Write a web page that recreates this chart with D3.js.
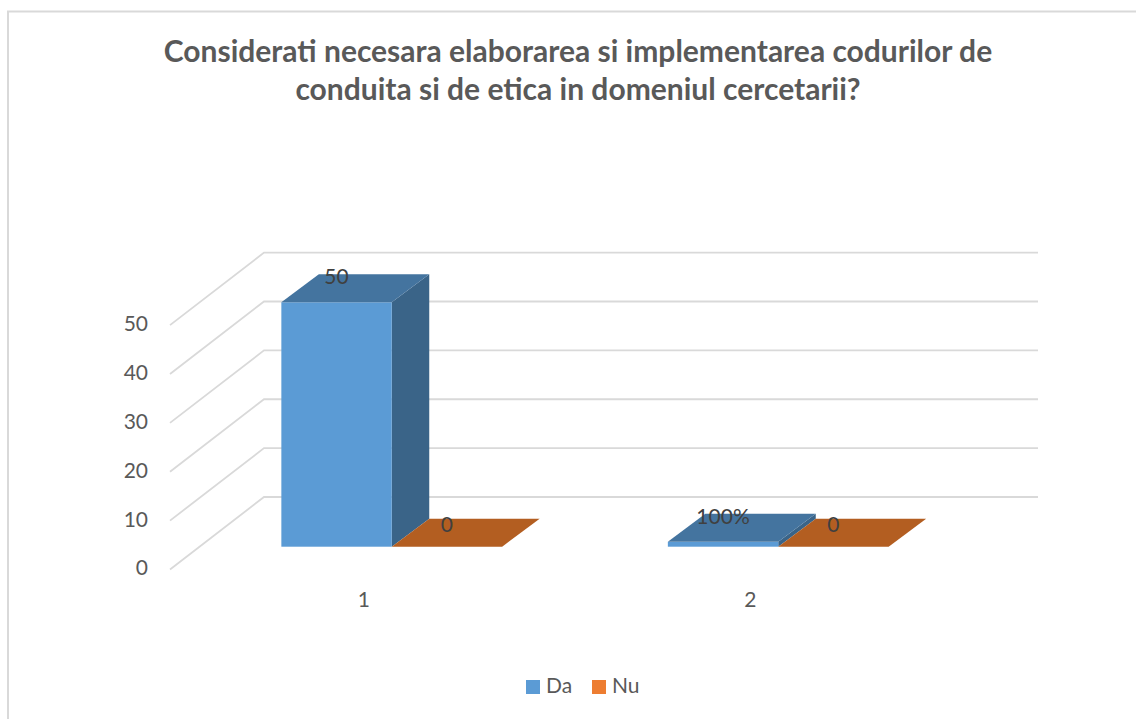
<!DOCTYPE html>
<html><head><meta charset="utf-8">
<script src="https://cdn.jsdelivr.net/npm/d3@7"></script>
<style>
html,body{margin:0;padding:0;background:#fff;overflow:hidden}
svg{display:block}
text{font-family:Lato,"Open Sans",sans-serif}
</style></head><body>
<div id="chart"></div>
<script>
const categories = ["1", "2"];
const seriesNames = ["Da", "Nu"];
const da = [50, 1];
const nu = [0, 0];
const daLabels = ["50", "100%"];
const nuLabels = ["0", "0"];
const ticks = [0, 10, 20, 30, 40, 50];
const titleLines = ["Considerati necesara elaborarea si implementarea codurilor de", "conduita si de etica in domeniul cercetarii?"];

const W = 1136, H = 719;
const svg = d3.select("#chart").append("svg").attr("width", W).attr("height", H);
const grid = "#d9d9d9", textCol = "#595959";
const fontStack = "Lato,'Open Sans',sans-serif";
const faces = {
  Da: {front: "#5b9bd5", top: "#44749f", side: "#3a6488"},
  Nu: {front: "#ed7d31", top: "#b35e21", side: "#8e4b1b"}
};
const legendCol = {Da: "#5b9bd5", Nu: "#ed7d31"};

// frame
svg.append("path").attr("d", `M8,${H}V11.5H${W}`).attr("fill", "none").attr("stroke", grid).attr("stroke-width", 2);

// title
svg.append("g").selectAll("text").data(titleLines).join("text")
  .attr("x", 578).attr("y", (d, i) => 62 + i * 38)
  .attr("text-anchor", "middle").attr("font-size", 30).attr("font-weight", 700)
  .attr("fill", textCol).text(d => d);

// scales (front plane of the bars)
const y = d3.scaleLinear().domain([0, 50]).range([546.7, 302.3]);
const x0 = d3.scaleBand().domain(categories).range([198.5, 971.5]);
const barW = 110.4;
const x1 = d3.scaleBand().domain(seriesNames).range([0, barW * 2]);
const groupOff = (x0.bandwidth() - barW * 2) / 2;
const depth = {dx: 37.5, dy: -28};
const wall = {backX: 264, backW: 774, backDy: -49.7, frontX: 170, frontDy: 22.8};

// gridlines
svg.append("g").selectAll("path").data(ticks).join("path")
  .attr("d", v => `M${wall.frontX},${y(v) + wall.frontDy}L${wall.backX},${y(v) + wall.backDy}H${wall.backX + wall.backW}`)
  .attr("fill", "none").attr("stroke", grid).attr("stroke-width", 1.8);

// value axis
const axisY = svg.append("g").attr("transform", "translate(148,21.5)")
  .call(d3.axisLeft(y).tickValues(ticks).tickSize(0).tickPadding(0));
axisY.select(".domain").remove();
axisY.selectAll("text").attr("font-size", 21).attr("fill", textCol).style("font-family", fontStack);

// category axis
const axisX = svg.append("g").attr("transform", "translate(-28,592)")
  .call(d3.axisBottom(x0).tickSize(0).tickPadding(0));
axisX.select(".domain").remove();
axisX.selectAll("text").attr("font-size", 21).attr("fill", textCol).attr("dy", "0.71em").style("font-family", fontStack);

// bars
const rows = [];
categories.forEach((c, i) => {
  rows.push({c, s: "Da", v: da[i], label: daLabels[i]});
  rows.push({c, s: "Nu", v: nu[i], label: nuLabels[i]});
});
const pts = a => a.map(p => p.join(",")).join(" ");
const bars = svg.append("g").selectAll("g").data(rows).join("g");
bars.each(function (d) {
  const g = d3.select(this);
  const l = x0(d.c) + groupOff + x1(d.s), r = l + x1.bandwidth();
  const t = y(d.v), b = y(0);
  const {dx, dy} = depth;
  const f = faces[d.s];
  if (d.v > 0) {
    g.append("polygon").attr("points", pts([[r, t], [r + dx, t + dy], [r + dx, b + dy], [r, b]])).attr("fill", f.side);
    g.append("rect").attr("x", l).attr("y", t).attr("width", r - l).attr("height", b - t).attr("fill", f.front);
  }
  g.append("polygon").attr("points", pts([[l, t], [l + dx, t + dy], [r + dx, t + dy], [r, t]])).attr("fill", f.top);
});

// data labels
svg.append("g").selectAll("text").data(rows).join("text")
  .attr("x", d => x0(d.c) + groupOff + x1(d.s) + x1.bandwidth() / 2)
  .attr("y", d => y(d.v) + (d.s === "Nu" ? -15 : -18))
  .attr("text-anchor", "middle").attr("font-size", 21).attr("fill", "#404040")
  .text(d => d.label);

// legend
const legX = {Da: 526, Nu: 592};
const leg = svg.append("g").selectAll("g").data(seriesNames).join("g")
  .attr("transform", s => `translate(${legX[s]},680)`);
leg.append("rect").attr("width", 14).attr("height", 14).attr("fill", s => legendCol[s]);
leg.append("text").attr("x", 20).attr("y", 13).attr("font-size", 21).attr("fill", textCol).text(s => s);
</script>
</body></html>
